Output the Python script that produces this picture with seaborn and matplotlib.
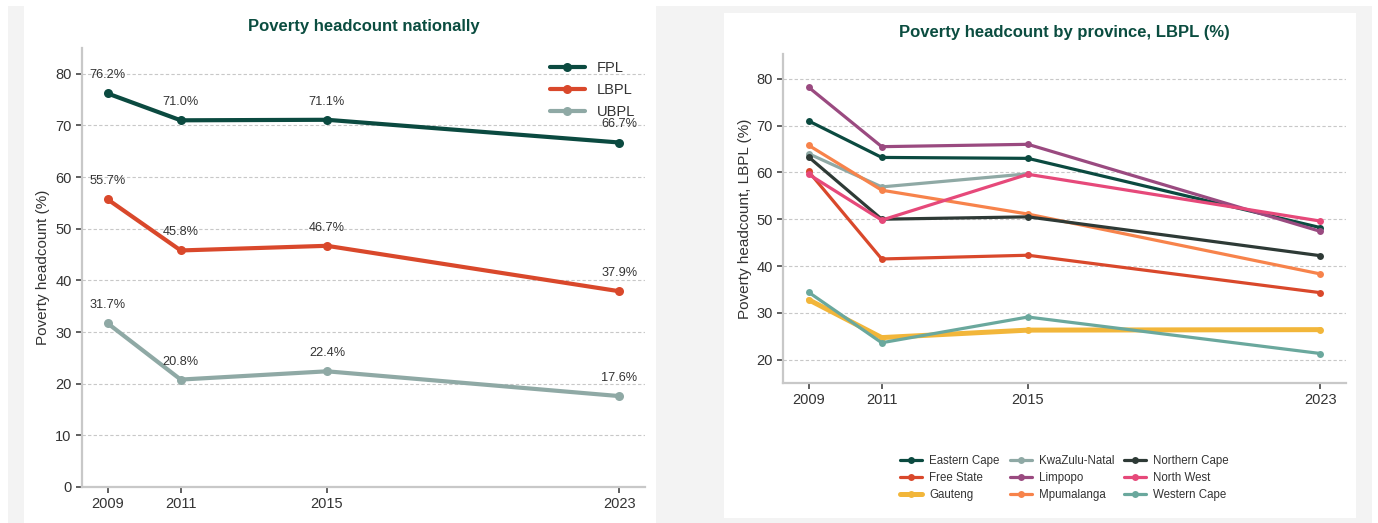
import numpy as np
import pandas as pd
import matplotlib
matplotlib.use("Agg")
import matplotlib.pyplot as plt
import seaborn as sns
from matplotlib.patches import Rectangle

# ---------------- data ----------------
years = [2009, 2011, 2015, 2023]

national_lines = ["FPL", "LBPL", "UBPL"]
fpl = [76.2, 71.0, 71.1, 66.7]
lbpl = [55.7, 45.8, 46.7, 37.9]
ubpl = [31.7, 20.8, 22.4, 17.6]

provinces = ["Eastern Cape", "Free State", "Gauteng", "KwaZulu-Natal", "Limpopo",
             "Mpumalanga", "Northern Cape", "North West", "Western Cape"]
eastern_cape = [71.0, 63.2, 63.0, 48.2]
free_state = [60.2, 41.5, 42.3, 34.3]
gauteng = [32.8, 24.7, 26.3, 26.4]
kwazulu_natal = [64.0, 56.9, 59.7, np.nan]
limpopo = [78.2, 65.5, 66.0, 47.4]
mpumalanga = [65.8, 56.2, 51.1, 38.3]
northern_cape = [63.3, 50.0, 50.5, 42.2]
north_west = [59.6, 49.8, 59.6, 49.6]
western_cape = [34.4, 23.6, 29.1, 21.3]

# ---------------- style ----------------
sns.set_style("white")
plt.rcParams["font.family"] = ["Liberation Sans", "DejaVu Sans"]

W, H = 1378, 523
fig = plt.figure(figsize=(W / 100, H / 100), dpi=100)
fig.patch.set_facecolor("white")

def fx(px):
    return px / W

def fy(py):
    return 1 - py / H

# background panels
fig.add_artist(Rectangle((fx(8), 0), fx(1372) - fx(8), fy(6), transform=fig.transFigure,
                         facecolor="#f3f3f3", edgecolor="none", zorder=-10))
fig.add_artist(Rectangle((fx(24), 0), fx(656) - fx(24), 1, transform=fig.transFigure,
                         facecolor="white", edgecolor="none", zorder=-9))
fig.add_artist(Rectangle((fx(724), fy(518)), fx(1356) - fx(724), fy(13) - fy(518),
                         transform=fig.transFigure, facecolor="white", edgecolor="none", zorder=-9))

title_color = "#0b4d40"
spine_color = "#c8c8c8"
text_color = "#333333"

def style_axes(ax):
    ax.set_facecolor("none")
    for s in ["top", "right"]:
        ax.spines[s].set_visible(False)
    for s in ["left", "bottom"]:
        ax.spines[s].set_color(spine_color)
        ax.spines[s].set_linewidth(1.6)
    ax.yaxis.grid(True, linestyle=(0, (3, 2)), color="#c8c8c8", linewidth=0.8)
    ax.set_axisbelow(True)
    ax.tick_params(axis="both", which="major", length=4.5, width=1.2, color="#444444",
                   labelsize=10.5, labelcolor=text_color, pad=3, left=True, bottom=True)
    ax.set_xticks(years)
    ax.set_xticklabels([str(y) for y in years])

# ---------------- left chart ----------------
ax1 = fig.add_axes([fx(82), fy(487), fx(645) - fx(82), fy(48) - fy(487)])
nat_df = pd.DataFrame({
    "year": years * 3,
    "value": fpl + lbpl + ubpl,
    "line": [n for n in national_lines for _ in years],
})
nat_colors = {"FPL": "#0b4a40", "LBPL": "#d9482b", "UBPL": "#8fa9a5"}
for name in national_lines:
    sub = nat_df[nat_df["line"] == name]
    sns.lineplot(data=sub, x="year", y="value", ax=ax1, color=nat_colors[name],
                 linewidth=3, marker="o", markersize=6.5, markeredgewidth=0, label=name)
    for x, v in zip(sub["year"], sub["value"]):
        ax1.annotate(f"{v:.1f}%", (x, v), xytext=(0, 13), textcoords="offset points",
                     ha="center", va="center", fontsize=9.2, color=text_color)
style_axes(ax1)
ax1.set_xlim(2008.3, 2023.7)
ax1.set_ylim(0, 85)
ax1.set_yticks(range(0, 81, 10))
ax1.set_xlabel("")
ax1.set_ylabel("Poverty headcount (%)", fontsize=11, color=text_color, labelpad=4)
leg1 = ax1.legend(loc="upper right", bbox_to_anchor=(1.005, 1.0), frameon=False, fontsize=10.5,
                  handlelength=2.4, handletextpad=0.8, labelspacing=0.55)
for t in leg1.get_texts():
    t.set_color(text_color)
fig.text((fx(82) + fx(645)) / 2, fy(26), "Poverty headcount nationally", ha="center", va="center",
         fontsize=12, fontweight="bold", color=title_color)

# ---------------- right chart ----------------
ax2 = fig.add_axes([fx(783), fy(383), fx(1346) - fx(783), fy(54) - fy(383)])
prov_values = [eastern_cape, free_state, gauteng, kwazulu_natal, limpopo,
               mpumalanga, northern_cape, north_west, western_cape]
prov_colors = ["#0b4a40", "#d9482b", "#f2b63a", "#8fa9a5", "#9a4a80",
               "#f7834b", "#2e3a36", "#e6497a", "#6aa89d"]
prov_df = pd.DataFrame({
    "year": years * len(provinces),
    "value": [v for vals in prov_values for v in vals],
    "province": [p for p in provinces for _ in years],
})
for name, col in zip(provinces, prov_colors):
    sub = prov_df[prov_df["province"] == name]
    lw = 3.6 if name == "Gauteng" else 2.3
    sns.lineplot(data=sub, x="year", y="value", ax=ax2, color=col, linewidth=lw,
                 marker="o", markersize=5, markeredgewidth=0, label=name)
style_axes(ax2)
ax2.set_xlim(2008.3, 2023.7)
ax2.set_ylim(15, 85.3)
ax2.set_yticks(range(20, 81, 10))
ax2.set_xlabel("")
ax2.set_ylabel("Poverty headcount, LBPL (%)", fontsize=11, color=text_color, labelpad=3)
leg2 = ax2.legend(loc="center", bbox_to_anchor=(0.5, -0.288), ncol=3, frameon=False,
                  fontsize=8.3, handlelength=1.9, handletextpad=0.6, columnspacing=0.9,
                  labelspacing=0.45)
for t in leg2.get_texts():
    t.set_color(text_color)
fig.text((fx(783) + fx(1346)) / 2, fy(33), "Poverty headcount by province, LBPL (%)",
         ha="center", va="center", fontsize=12, fontweight="bold", color=title_color)

fig.savefig("out.png", dpi=100, facecolor=fig.get_facecolor())
